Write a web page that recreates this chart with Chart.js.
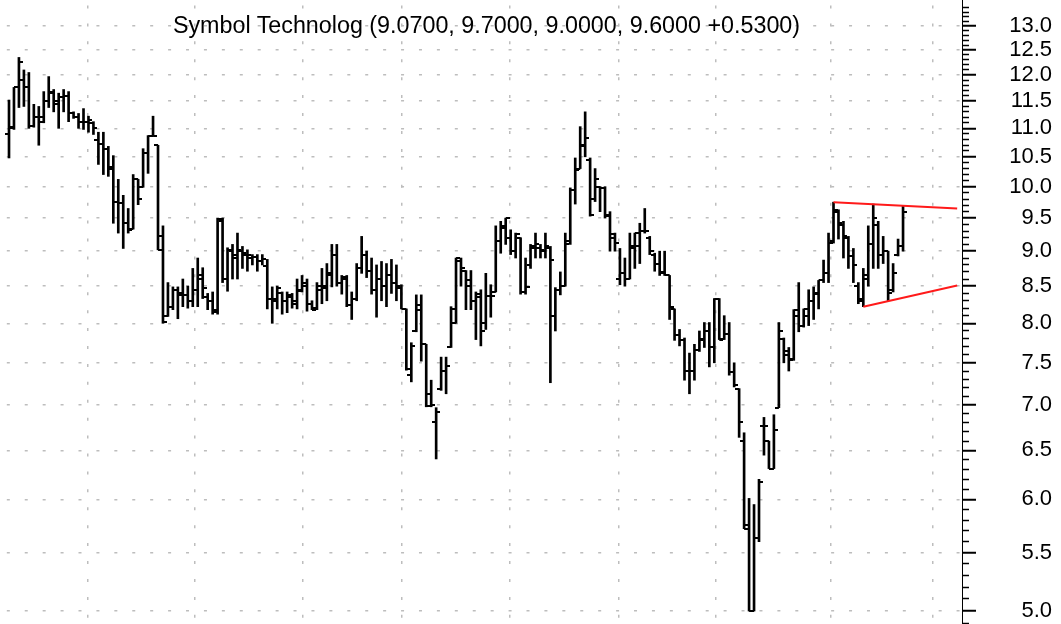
<!DOCTYPE html>
<html>
<head>
<meta charset="utf-8">
<script src="https://cdn.jsdelivr.net/npm/chart.js@4.4.1/dist/chart.umd.min.js"></script>
<style>
html,body{margin:0;padding:0;background:#fff;}
#wrap{position:relative;width:1061px;height:624px;overflow:hidden;background:#fff;}
#c{position:absolute;left:0;top:0;}
#sub{position:absolute;top:14.3px;left:486.5px;transform:translateX(-50%);white-space:nowrap;
  font-family:"Liberation Sans",Arial,sans-serif;font-size:23.3px;line-height:23.3px;color:#000;}
</style>
</head>
<body>
<div id="wrap">
<canvas id="c" width="1061" height="624"></canvas>
<div id="sub">Symbol Technolog (9.0700, 9.7000, 9.0000, 9.6000 +0.5300)</div>
</div>
<script>
// ---- daily OHLC values (one entry per trading day) ----
const opens = [
10.89,11.0,11.76,11.9,11.76,11.05,11.2,11.12,11.5,11.65,
11.44,11.58,11.6,11.27,11.2,11.12,11.12,11.1,10.79,10.73,
10.64,10.3,9.76,9.73,9.42,9.33,10.12,10.0,10.56,10.87,
10.7,9.22,8.1,8.22,8.45,8.4,8.38,8.3,8.45,8.6,
8.35,8.3,8.15,9.45,8.6,9.0,8.9,9.0,8.95,8.9,
8.92,8.85,8.78,8.33,8.3,8.4,8.3,8.35,8.3,8.45,
8.5,8.26,8.2,8.45,8.5,8.65,8.94,8.55,8.6,8.24,
8.33,8.75,8.95,8.72,8.45,8.6,8.5,8.65,8.55,8.48,
8.19,7.35,7.9,8.18,7.73,7.13,6.81,7.19,7.4,7.7,
8.0,8.85,8.72,8.5,8.3,8.35,8.0,8.36,8.42,9.15,
9.35,9.2,9.0,9.2,8.42,8.8,9.05,9.05,9.0,9.05,
8.1,8.45,8.5,9.15,9.95,10.3,10.7,10.45,9.8,10.0,
9.98,9.55,9.2,8.6,8.68,8.6,9.05,9.07,9.3,9.2,
8.95,8.82,8.7,8.65,8.19,7.85,7.78,7.4,7.4,7.66,
7.8,7.9,7.7,8.33,7.8,7.86,7.39,7.19,6.6,5.75,
5.0,5.63,6.76,6.6,6.31,6.97,7.8,7.6,7.55,8.1,
7.97,8.1,8.3,8.4,8.58,8.68,9.15,9.6,9.4,9.2,
8.93,8.5,8.33,8.6,9.1,9.4,8.95,9.0,8.45,8.95,
9.07];
const highs = [
11.52,11.76,12.35,12.1,12.05,11.44,11.4,11.68,11.97,11.72,
11.65,11.72,11.68,11.3,11.27,11.36,11.22,11.12,10.93,10.93,
10.68,10.52,10.12,9.86,9.65,10.2,10.12,10.64,10.87,11.22,
10.7,9.38,8.55,8.49,8.49,8.6,8.5,8.75,8.9,8.76,
8.4,8.42,9.5,9.5,9.05,9.1,9.27,9.07,9.02,8.95,
8.95,8.95,8.88,8.49,8.5,8.42,8.42,8.4,8.6,8.65,
8.6,8.3,8.55,8.75,8.82,9.1,9.1,8.65,8.65,8.42,
8.82,9.22,9.0,8.9,8.8,8.85,8.82,8.88,8.8,8.52,
8.19,7.75,8.38,8.38,7.73,7.29,6.97,7.57,7.57,8.22,
8.9,8.9,8.72,8.72,8.42,8.45,8.68,8.52,9.38,9.45,
9.5,9.32,9.27,9.2,8.9,9.1,9.27,9.1,9.27,9.07,
8.48,8.7,9.27,9.98,10.48,11.03,11.3,10.48,10.3,10.0,
10.0,9.6,9.27,9.04,8.9,9.27,9.27,9.42,9.65,9.22,
8.97,9.0,9.0,8.65,8.19,7.92,7.81,7.62,7.73,7.9,
8.01,8.01,8.33,8.33,8.1,8.01,7.5,7.19,6.69,6.01,
5.95,6.2,6.86,6.6,6.89,8.01,7.81,7.69,8.18,8.55,
8.19,8.45,8.49,8.58,8.87,9.27,9.75,9.63,9.45,9.22,
9.04,8.55,8.75,9.38,9.72,9.45,9.22,9.0,8.82,9.18,
9.70];
const lows = [
10.48,10.98,11.38,11.4,11.0,11.02,10.7,11.1,11.38,11.3,
11.0,11.3,11.12,11.18,11.0,10.98,10.93,10.89,10.37,10.2,
10.17,9.42,9.27,9.04,9.27,9.33,9.71,9.99,10.22,10.87,
9.02,8.0,8.09,8.18,8.06,8.22,8.2,8.22,8.22,8.33,
8.18,8.12,8.12,8.55,8.43,8.6,8.6,8.75,8.71,8.8,
8.71,8.8,8.19,8.0,8.19,8.12,8.14,8.2,8.19,8.42,
8.16,8.18,8.18,8.26,8.3,8.49,8.5,8.39,8.22,8.05,
8.3,8.68,8.62,8.39,8.08,8.3,8.22,8.4,8.3,8.19,
7.41,7.27,7.89,7.52,6.98,6.98,6.41,7.17,7.13,7.69,
8.0,8.5,8.18,8.18,7.79,7.71,7.92,8.08,8.42,8.97,
9.1,8.95,8.9,8.39,8.39,8.75,8.9,8.9,8.9,7.26,
7.9,8.38,8.5,9.1,9.72,10.3,10.5,9.53,9.76,9.6,
9.5,9.0,9.0,8.52,8.5,8.6,8.75,8.82,9.27,8.95,
8.71,8.65,8.65,8.05,7.78,7.71,7.29,7.13,7.29,7.64,
7.69,7.45,7.5,7.79,7.79,7.35,7.21,6.64,5.72,5.0,
5.0,5.6,6.45,6.31,6.31,6.97,7.5,7.4,7.53,7.89,
7.95,7.97,8.05,8.19,8.55,8.55,9.12,9.18,8.9,8.75,
8.55,8.26,8.22,8.5,8.75,8.75,8.82,8.3,8.42,8.93,
9.00];
const closes = [
11.02,11.76,12.25,11.76,11.05,11.2,11.2,11.5,11.68,11.5,
11.58,11.6,11.27,11.2,11.12,11.12,11.15,11.0,10.73,10.64,
10.32,9.76,9.73,9.42,9.32,10.12,9.8,10.56,10.87,10.87,
9.02,8.02,8.22,8.45,8.38,8.38,8.3,8.45,8.65,8.48,
8.3,8.18,9.48,8.6,9.02,8.95,9.02,8.98,8.95,8.92,
8.85,8.88,8.33,8.33,8.48,8.3,8.38,8.26,8.43,8.55,
8.26,8.18,8.5,8.48,8.68,8.94,8.55,8.63,8.24,8.33,
8.76,8.95,8.72,8.45,8.6,8.5,8.65,8.55,8.5,8.19,
7.43,7.71,8.24,7.73,6.99,7.0,6.92,7.4,7.46,8.19,
8.9,8.75,8.58,8.29,8.39,7.9,8.36,8.36,9.15,9.38,
9.5,9.0,9.25,8.42,8.49,9.07,9.1,9.02,9.07,8.87,
8.45,8.5,9.1,9.95,10.27,10.68,10.82,9.55,10.12,9.98,
9.53,9.25,9.12,8.68,8.6,9.07,9.27,9.3,9.3,9.0,
8.82,8.68,8.65,8.22,7.85,7.78,7.4,7.4,7.66,7.79,
7.9,7.69,8.33,7.79,7.86,7.39,7.23,6.81,5.72,5.0,
5.63,6.17,6.76,6.31,6.72,7.9,7.64,7.53,8.18,7.97,
8.19,8.29,8.39,8.58,8.68,9.12,9.63,9.42,9.22,8.93,
8.8,8.3,8.65,9.1,9.5,8.95,9.0,8.4,8.68,9.07,
9.60];

// trend lines (triangle) : bar index -> price
const upperTrendX = [166, 190.9];
const upperTrendY = [9.75, 9.65];
const lowerTrendX = [172, 190.9];
const lowerTrendY = [8.22, 8.51];

// month boundaries (bar-index units) used for vertical grid lines
const monthGrid = [15.8, 37.4, 59.2, 79.1, 100.9, 122.7, 142.3, 165.4, 186.0];

// price axis labels
const majorTicks = [5.0,5.5,6.0,6.5,7.0,7.5,8.0,8.5,9.0,9.5,10.0,10.5,11.0,11.5,12.0,12.5,13.0];
const minorTicks = [];
for (let k = 49; k <= 134; k++) { if (k % 5 !== 0) minorTicks.push(k / 10); }

// axis ranges
const xMin = -1.812, xMax = 191.87;
const yMin = 4.8953, yMax = 13.5649;

const idx = closes.map((_, i) => i);

function tickImg(side) {
  const c = document.createElement('canvas');
  c.width = 8; c.height = 2;
  const g = c.getContext('2d');
  g.fillStyle = '#000';
  g.fillRect(side === 'left' ? 0 : 4, 0, 4, 2);
  return c;
}
const openImg = tickImg('left');
const closeImg = tickImg('right');

const FONT = '"Liberation Sans", Arial, sans-serif';
const noPad = s => { s.paddingTop = 0; s.paddingBottom = 0; s.paddingLeft = 0; s.paddingRight = 0; };

new Chart(document.getElementById('c'), {
  type: 'bar',
  data: {
    datasets: [
      { type: 'line', label: 'Upper trend', data: upperTrendX.map((x, k) => ({x, y: upperTrendY[k]})),
        borderColor: '#ff1a1a', borderWidth: 2, pointRadius: 0, fill: false, order: 0, xAxisID: 'x', yAxisID: 'y' },
      { type: 'line', label: 'Lower trend', data: lowerTrendX.map((x, k) => ({x, y: lowerTrendY[k]})),
        borderColor: '#ff1a1a', borderWidth: 2, pointRadius: 0, fill: false, order: 0, xAxisID: 'x', yAxisID: 'y' },
      { type: 'line', label: 'Open', data: idx.map(i => ({x: i, y: opens[i]})), showLine: false,
        pointStyle: openImg, pointRadius: 3, order: 1, xAxisID: 'x', yAxisID: 'y' },
      { type: 'line', label: 'Close', data: idx.map(i => ({x: i, y: closes[i]})), showLine: false,
        pointStyle: closeImg, pointRadius: 3, order: 1, xAxisID: 'x', yAxisID: 'y' },
      { type: 'bar', label: 'High-Low', data: idx.map(i => ({x: i, y: [lows[i], highs[i]]})),
        backgroundColor: '#000', borderWidth: 0, barThickness: 2, grouped: false, order: 2, xAxisID: 'x', yAxisID: 'y' }
    ]
  },
  options: {
    responsive: false,
    devicePixelRatio: 1,
    animation: false,
    events: [],
    layout: { padding: { left: 0, top: 0, bottom: 0, right: 9 }, autoPadding: false },
    plugins: { legend: { display: false }, tooltip: { enabled: false }, title: { display: false } },
    scales: {
      y: {
        type: 'logarithmic', position: 'right', min: yMin, max: yMax, bounds: 'data', weight: 1,
        afterBuildTicks: s => { s.ticks = majorTicks.map(v => ({value: v})); },
        afterFit: s => { s.width = 90; noPad(s); },
        ticks: { display: true, autoSkip: false, crossAlign: 'far', padding: 18, color: '#000',
                 font: { family: FONT, size: 22 }, callback: v => Number(v).toFixed(1) },
        grid: { display: true, drawOnChartArea: true, drawTicks: true, tickLength: 14, tickColor: '#000',
                tickWidth: 2, tickBorderDash: [], color: '#bdbdbd', lineWidth: 1.5 },
        border: { display: true, color: '#000', width: 1, dash: [3, 14.92], dashOffset: 11.1 }
      },
      y2: {
        type: 'logarithmic', position: 'right', min: yMin, max: yMax, bounds: 'data', weight: 0,
        afterBuildTicks: s => { s.ticks = minorTicks.map(v => ({value: v})); },
        afterFit: s => { s.width = 0; noPad(s); },
        ticks: { display: false },
        grid: { display: true, drawOnChartArea: false, drawTicks: true, tickLength: 7, tickColor: '#000',
                tickWidth: 1.5, tickBorderDash: [] },
        border: { display: false }
      },
      x: {
        type: 'linear', position: 'bottom', min: xMin, max: xMax, bounds: 'data', offset: false,
        afterBuildTicks: s => { s.ticks = monthGrid.map(v => ({value: v})); },
        afterFit: s => { s.height = 0; noPad(s); },
        ticks: { display: false },
        grid: { display: true, drawTicks: false, offset: false, color: '#bdbdbd', lineWidth: 1.5 },
        border: { display: false, dash: [3, 14.92], dashOffset: 12.4 }
      }
    }
  }
});
</script>
</body>
</html>
